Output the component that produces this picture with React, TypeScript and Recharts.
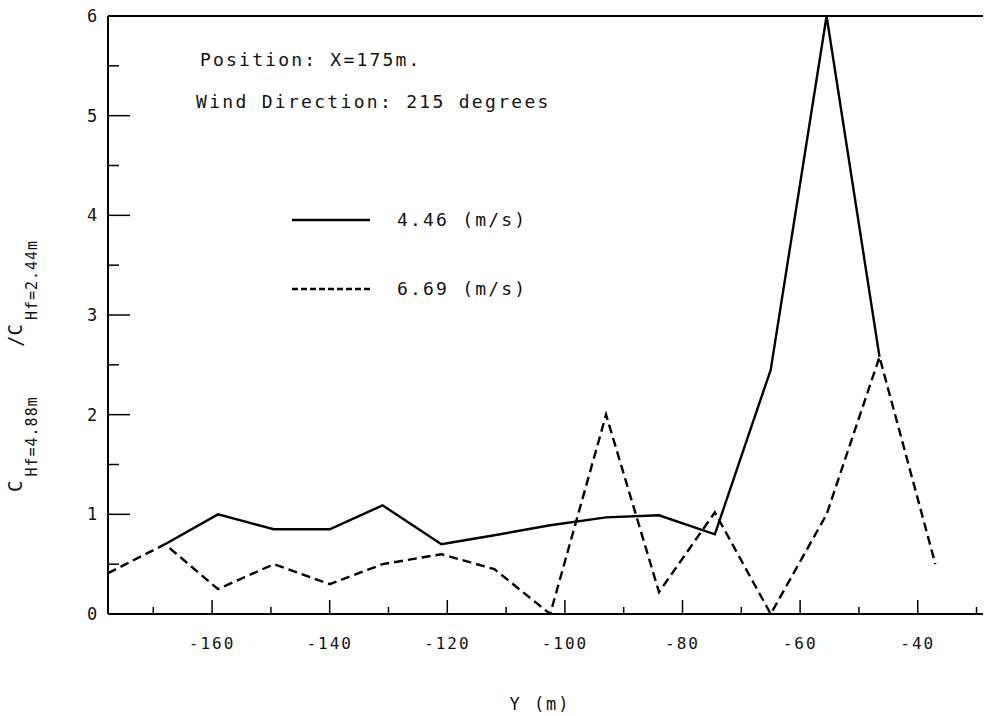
import React from 'react';
import { LineChart, Line, XAxis, YAxis, ReferenceLine } from 'recharts';

// lateral positions Y (m) of the measurement points
const yPositions446 = [-168, -159, -149.5, -140, -131, -121, -112, -102.5, -93, -84, -74.5, -65, -55.5, -46.5];
const ratio446 = [0.7, 1.0, 0.85, 0.85, 1.09, 0.7, 0.79, 0.89, 0.97, 0.99, 0.8, 2.45, 6.0, 2.58];

const yPositions669 = [-177.7, -168, -159, -149.5, -140, -131, -121, -112, -102.5, -93, -84, -74.5, -65, -55.5, -46.5, -37];
const ratio669 = [0.41, 0.7, 0.25, 0.5, 0.3, 0.5, 0.6, 0.45, 0.0, 2.0, 0.22, 1.02, 0.0, 1.0, 2.58, 0.5];

const xTicks = [-170, -160, -150, -140, -130, -120, -110, -100, -90, -80, -70, -60, -50, -40, -30];
const yTicks = [0, 0.5, 1, 1.5, 2, 2.5, 3, 3.5, 4, 4.5, 5, 5.5, 6];
const xDomain = [-177.7, -28.9];
const yDomain = [0, 6];

const seriesNames = ['4.46 (m/s)', '6.69 (m/s)'];
const annotationLines = ['Position: X=175m.', 'Wind Direction: 215 degrees'];

const data446 = yPositions446.map((x, i) => ({ x, v: ratio446[i] }));
const data669 = yPositions669.map((x, i) => ({ x, v: ratio669[i] }));

const FONT = "'DejaVu Sans Mono', 'Liberation Mono', monospace";

const XTick = (props: any) => {
  const { x, y, payload } = props;
  const v = payload.value;
  const major = v % 20 === 0;
  return (
    <g>
      <line x1={x} x2={x} y1={y} y2={y - (major ? 14 : 7)} stroke="#000" strokeWidth={1.5} />
      {major && (
        <text x={x} y={y + 35} textAnchor="middle" fontFamily={FONT} fontSize={16} letterSpacing={2} fill="#111">
          {v}
        </text>
      )}
    </g>
  );
};

const YTick = (props: any) => {
  const { x, y, payload } = props;
  const v = payload.value;
  const major = Number.isInteger(v);
  return (
    <g>
      <line x1={x} x2={x + (major ? 22 : 11)} y1={y} y2={y} stroke="#000" strokeWidth={1.5} />
      {major && (
        <text x={x - 16} y={y + 6} textAnchor="middle" fontFamily={FONT} fontSize={17} fill="#111">
          {v}
        </text>
      )}
    </g>
  );
};

export default function App() {
  return (
    <div style={{ position: 'absolute', left: 0, top: 0, width: 985, height: 716, background: '#fff' }}>
      <LineChart width={985} height={716} data={data446} margin={{ top: 16, right: 2, left: 48, bottom: 72 }}>
        <XAxis
          type="number"
          dataKey="x"
          domain={xDomain}
          ticks={xTicks}
          interval={0}
          allowDataOverflow
          tickSize={0}
          tickMargin={0}
          tickLine={false}
          tick={<XTick />}
          axisLine={{ stroke: '#000', strokeWidth: 2 }}
          height={30}
        />
        <YAxis
          type="number"
          domain={yDomain}
          ticks={yTicks}
          interval={0}
          allowDataOverflow
          tickSize={0}
          tickMargin={0}
          tickLine={false}
          tick={<YTick />}
          axisLine={{ stroke: '#000', strokeWidth: 2 }}
          width={60}
        />
        <ReferenceLine y={6} stroke="#000" strokeWidth={2} />
        <Line
          data={data669}
          dataKey="v"
          type="linear"
          stroke="#000"
          strokeWidth={2.4}
          strokeDasharray="9 5"
          dot={false}
          isAnimationActive={false}
          name={seriesNames[1]}
        />
        <Line
          data={data446}
          dataKey="v"
          type="linear"
          stroke="#000"
          strokeWidth={2.4}
          dot={false}
          isAnimationActive={false}
          name={seriesNames[0]}
        />
      </LineChart>
      <svg width={985} height={716} style={{ position: 'absolute', left: 0, top: 0, pointerEvents: 'none' }}>
        <g fontFamily={FONT} fill="#111">
          <text x={200} y={66} fontSize={18} letterSpacing={2.2}>{annotationLines[0]}</text>
          <text x={196} y={108} fontSize={18} letterSpacing={2.3}>{annotationLines[1]}</text>
          {/* legend */}
          <line x1={292} x2={370} y1={220} y2={220} stroke="#000" strokeWidth={2.4} />
          <text x={397} y={226} fontSize={18} letterSpacing={2.2}>{seriesNames[0]}</text>
          <line x1={292} x2={370} y1={289} y2={289} stroke="#000" strokeWidth={2.4} strokeDasharray="6 3" />
          <text x={397} y={295} fontSize={18} letterSpacing={2.2}>{seriesNames[1]}</text>
          {/* x-axis title */}
          <text x={540} y={710} fontSize={17} letterSpacing={2} textAnchor="middle">Y (m)</text>
          {/* y-axis title */}
          <text transform="rotate(-90, 22, 492)" x={22} y={492} fontSize={19}>
            C
            <tspan fontSize={15} dx={4} dy={15} letterSpacing={1}>Hf=4.88m</tspan>
          </text>
          <text transform="rotate(-90, 22, 347)" x={22} y={347} fontSize={19}>
            /C
            <tspan fontSize={15} dx={4} dy={15} letterSpacing={1}>Hf=2.44m</tspan>
          </text>
        </g>
      </svg>
    </div>
  );
}
